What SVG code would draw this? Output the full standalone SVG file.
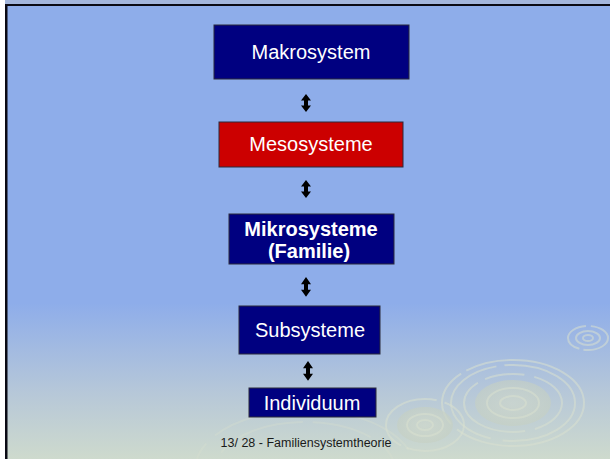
<svg xmlns="http://www.w3.org/2000/svg" width="610" height="459" viewBox="0 0 610 459">
<defs>
<linearGradient id="bg" x1="0" y1="0" x2="0" y2="459" gradientUnits="userSpaceOnUse">
<stop offset="0" stop-color="#8eadea"/>
<stop offset="0.66" stop-color="#8eadea"/>
<stop offset="0.86" stop-color="#b7c8d8"/>
<stop offset="1" stop-color="#cedacd"/>
</linearGradient>
<radialGradient id="disc" cx="0.5" cy="0.5" r="0.5">
<stop offset="0" stop-color="#d2dacb"/>
<stop offset="1" stop-color="#c6d0c2"/>
</radialGradient>
<path id="arr" d="M0,0 L5,6.5 L2,6.5 L2,11.5 L5,11.5 L0,18 L-5,11.5 L-2,11.5 L-2,6.5 L-5,6.5 Z"/>
</defs>
<style>
.box{stroke:#2a2a3a;stroke-width:1}
.navy{fill:#000080}
.red{fill:#cc0000}
.lbl{font-family:"Liberation Sans",Arial,sans-serif;font-size:20px;fill:#ffffff;text-anchor:middle}
.bold{font-weight:bold}
.ring{fill:none;stroke:#d8e0cf;stroke-width:2;opacity:0.55}
.arrow{fill:#000000}
</style>
<rect x="0" y="0" width="610" height="459" fill="#ffffff"/>
<rect x="5" y="0" width="605" height="459" fill="url(#bg)"/>
<rect x="5" y="0" width="605" height="4" fill="#a3b6dc"/>
<rect x="5" y="4" width="605" height="2" fill="#0a0a14"/>
<rect x="5" y="4" width="2.5" height="455" fill="#0a0a14"/>
<g id="ripples">
<g transform="translate(513,403)">
<ellipse rx="71" ry="43" class="ring" stroke-dasharray="150 8 60 6 200 10"/>
<ellipse rx="62" ry="38" class="ring" stroke-dasharray="90 12 120 8"/>
<ellipse rx="49" ry="29" class="ring" stroke-dasharray="40 10 100 8"/>
<ellipse rx="38" ry="23" fill="url(#disc)" opacity="0.6"/>
<ellipse rx="26" ry="15" class="ring"/>
<ellipse rx="13" ry="7" class="ring"/>
</g>
<g transform="translate(425,425)">
<ellipse rx="39" ry="26" class="ring" stroke-dasharray="70 6 90 8"/>
<ellipse rx="28" ry="18" fill="url(#disc)" opacity="0.6"/>
<ellipse rx="18" ry="11" class="ring"/>
<ellipse rx="8" ry="5" class="ring"/>
</g>
<g transform="translate(588,338)">
<ellipse rx="20" ry="12" class="ring" stroke-dasharray="30 4 40 5"/>
<ellipse rx="12" ry="7" class="ring"/>
<ellipse rx="5" ry="3" class="ring"/>
</g>
<g transform="translate(305,470)" opacity="0.6">
<ellipse rx="110" ry="60" class="ring" stroke-dasharray="80 12 120 10"/>
<ellipse rx="90" ry="48" class="ring" stroke-dasharray="60 10 90 10"/>
</g>
</g>
<g id="connectors">
<use href="#arr" class="arrow" x="306" y="94"/>
<use href="#arr" class="arrow" x="306" y="180"/>
<g transform="translate(306,277) scale(1,1.1)"><use href="#arr" class="arrow"/></g>
<g transform="translate(308,361) scale(1,1.1)"><use href="#arr" class="arrow"/></g>
</g>
<g id="makrosystem">
<rect x="214" y="25" width="195" height="54" class="box navy"/>
<text x="311" y="59" class="lbl">Makrosystem</text>
</g>
<g id="mesosysteme">
<rect x="219" y="122" width="184" height="45" class="box red"/>
<text x="311" y="151" class="lbl">Mesosysteme</text>
</g>
<g id="mikrosysteme">
<rect x="229" y="214" width="165" height="50" class="box navy"/>
<text x="311" y="236" class="lbl bold">Mikrosysteme</text>
<text x="309" y="258" class="lbl bold">(Familie)</text>
</g>
<g id="subsysteme">
<rect x="239" y="306" width="141" height="48" class="box navy"/>
<text x="310" y="337" class="lbl">Subsysteme</text>
</g>
<g id="individuum">
<rect x="249" y="388" width="127" height="29" class="box navy"/>
<text x="312" y="410" class="lbl">Individuum</text>
</g>
<text x="306" y="447" font-family="'Liberation Sans',Arial,sans-serif" font-size="12.5" fill="#1a1a1a" text-anchor="middle">13/ 28 - Familiensystemtheorie</text>
</svg>
